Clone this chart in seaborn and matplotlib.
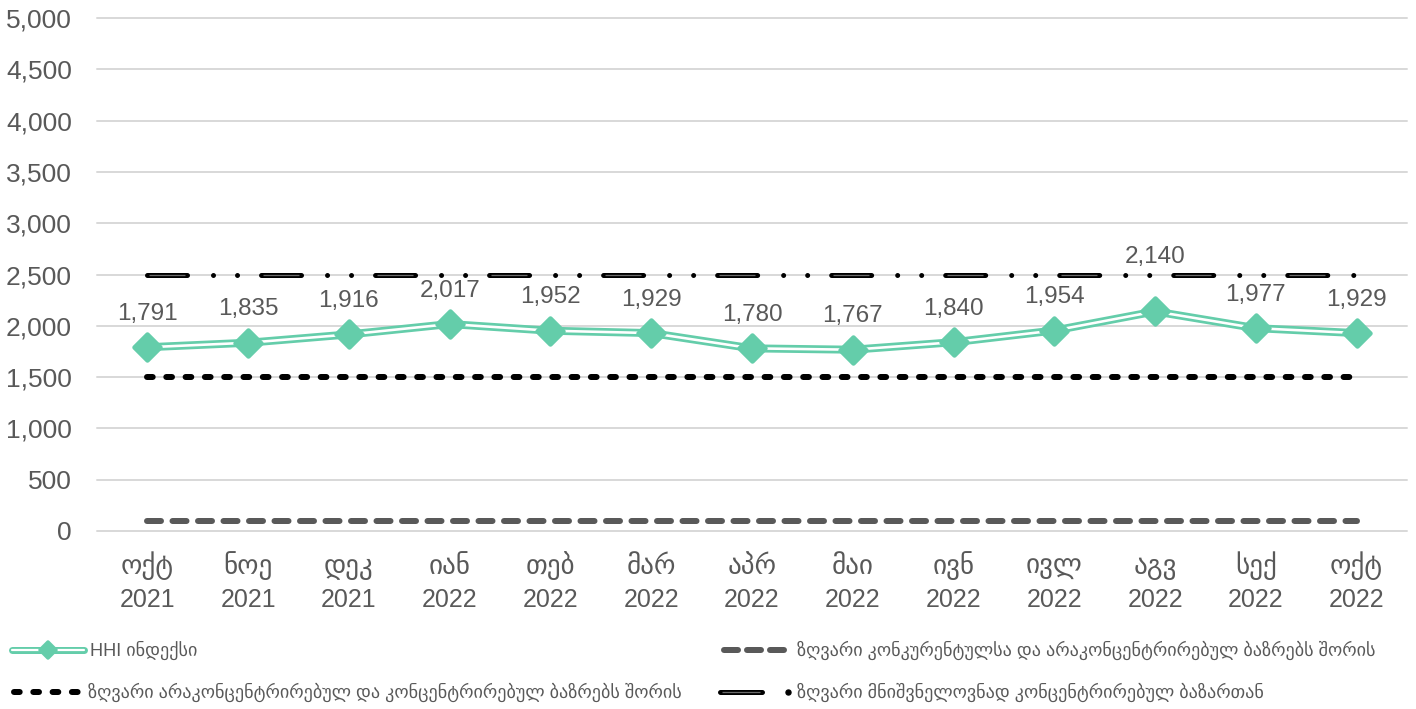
import matplotlib
matplotlib.use("Agg")
import matplotlib.pyplot as plt
from matplotlib.lines import Line2D
from matplotlib.markers import MarkerStyle
import seaborn as sns
import numpy as np

# ---- data -------------------------------------------------------------
months = ["ოქტ", "ნოე", "დეკ", "იან", "თებ", "მარ", "აპრ",
          "მაი", "ივნ", "ივლ", "აგვ", "სექ", "ოქტ"]
years = ["2021", "2021", "2021", "2022", "2022", "2022", "2022",
         "2022", "2022", "2022", "2022", "2022", "2022"]
hhi = [1791, 1835, 1916, 2017, 1952, 1929, 1780, 1767, 1840, 1954, 2140, 1977, 1929]

limit_competitive = 100        # competitive / unconcentrated
limit_unconcentrated = 1500    # unconcentrated / concentrated
limit_concentrated = 2500      # highly concentrated

legend_labels = [
    "HHI ინდექსი",
    "ზღვარი კონკურენტულსა და არაკონცენტრირებულ ბაზრებს შორის",
    "ზღვარი არაკონცენტრირებულ და კონცენტრირებულ ბაზრებს შორის",
    "ზღვარი მნიშვნელოვნად კონცენტრირებულ ბაზართან",
]

# ---- style ------------------------------------------------------------
sns.set_theme(style="white")
plt.rcParams["font.family"] = ["Liberation Sans", "DejaVu Sans"]
plt.rcParams["lines.scale_dashes"] = False

TEAL = "#64CDAA"
GREY_TXT = "#595959"
GRID = "#D9D9D9"
DASH_GREY = "#595959"

W, H = 1416, 709
PX = 0.72  # points per pixel at 100 dpi

fig = plt.figure(figsize=(W / 100, H / 100), dpi=100)
ax = fig.add_axes([97 / W, 1 - 531 / H, 1310 / W, 513 / H])

x = np.arange(len(hhi))


def fx(px):
    return px / W


def fy(py):
    return 1 - py / H


# threshold patterns (in points)
pat_grey = (14 * PX, 11.5 * PX)
pat_black = (5.7 * PX, 13.6 * PX)
pat_ldd = (40 * PX, 26 * PX, 0.01, 24 * PX, 0.01, 24 * PX)
inner_ldd = (112 * PX, (36 * PX, 78 * PX))

# ---- threshold lines ----------------------------------------------------
sns.lineplot(x=x, y=[limit_competitive] * len(x), ax=ax, color=DASH_GREY,
             linewidth=6 * PX, zorder=3)
l_grey = ax.lines[-1]
l_grey.set_dashes(pat_grey)
l_grey.set_dash_capstyle("round")

sns.lineplot(x=x, y=[limit_unconcentrated] * len(x), ax=ax, color="black",
             linewidth=6 * PX, zorder=3)
l_blk = ax.lines[-1]
l_blk.set_dashes(pat_black)
l_blk.set_dash_capstyle("round")

sns.lineplot(x=x, y=[limit_concentrated] * len(x), ax=ax, color="black",
             linewidth=5 * PX, zorder=3)
l_ldd = ax.lines[-1]
l_ldd.set_dashes(pat_ldd)
l_ldd.set_dash_capstyle("round")
sns.lineplot(x=x, y=[limit_concentrated] * len(x), ax=ax, color="#6b6b6b",
             linewidth=1.3 * PX, zorder=3.1)
l_in = ax.lines[-1]
l_in.set_linestyle(inner_ldd)
l_in.set_dash_capstyle("butt")

# ---- HHI series: double line with diamonds --------------------------------
sns.lineplot(x=x, y=hhi, ax=ax, color=TEAL, linewidth=8 * PX, zorder=4)
sns.lineplot(x=x, y=hhi, ax=ax, color="white", linewidth=2.6 * PX, zorder=4.1)
diamond = MarkerStyle("D", joinstyle="round")
ax.plot(x, hhi, linestyle="none", marker=diamond, markersize=19 * PX,
        markerfacecolor=TEAL, markeredgecolor=TEAL, markeredgewidth=4.5 * PX,
        zorder=5)

# value labels
for xi, v in zip(x, hhi):
    off = 39 if v == max(hhi) else 24
    ax.annotate(f"{v:,}", (xi, v), xytext=(0, off), textcoords="offset points",
                ha="center", va="center", fontsize=17.5, color=GREY_TXT,
                zorder=6)

# ---- axes -----------------------------------------------------------------
ax.set_xlim(-0.5, len(x) - 0.5)
ax.set_ylim(0, 5000)
ax.set_yticks(np.arange(0, 5001, 500))
ax.set_yticklabels([f"{t:,}" for t in range(0, 5001, 500)])
ax.tick_params(axis="y", length=0, pad=18, labelsize=19, labelcolor=GREY_TXT)

# month names on the first label row, years on a second row
ax.tick_params(axis="x", length=0, pad=31, labelsize=19.5, labelcolor=GREY_TXT)
ax.set_xticks(x)
ax.set_xticklabels(months, va="baseline")
sec = ax.secondary_xaxis("bottom")
sec.tick_params(axis="x", length=0, pad=55, labelsize=18, labelcolor=GREY_TXT)
sec.set_xticks(x)
sec.set_xticklabels(years, va="baseline")
for s in sec.spines.values():
    s.set_visible(False)

ax.grid(axis="y", color=GRID, linewidth=2 * PX)
ax.grid(axis="x", visible=False)
for gl in ax.get_ygridlines():
    gl.set_clip_on(False)
for s in ax.spines.values():
    s.set_visible(False)
ax.set_xlabel("")
ax.set_ylabel("")

# ---- legend -----------------------------------------------------------------
tf = fig.transFigure
row1, row2 = 650, 692
LEG_FS = 13.1


def fline(x0, x1, y, **kw):
    ln = Line2D([fx(x0), fx(x1)], [fy(y), fy(y)], transform=tf, **kw)
    fig.add_artist(ln)
    return ln


# HHI handle
fline(12, 84, row1, color=TEAL, linewidth=7 * PX)
fline(12, 84, row1, color="white", linewidth=2.2 * PX)
fig.add_artist(Line2D([fx(48)], [fy(row1)], transform=tf, linestyle="none",
                      marker=diamond, markersize=11.5 * PX, markerfacecolor=TEAL,
                      markeredgecolor=TEAL, markeredgewidth=3.5 * PX))
fig.text(fx(90), fy(row1), legend_labels[0], fontsize=LEG_FS, color=GREY_TXT,
         va="center", ha="left")

# black dotted handle
h = fline(14, 78, row2, color="black", linewidth=6 * PX)
h.set_dashes(pat_black)
h.set_dash_capstyle("round")
fig.text(fx(88), fy(row2), legend_labels[2], fontsize=LEG_FS, color=GREY_TXT,
         va="center", ha="left")

# grey dashed handle
h = fline(724, 784, row1, color=DASH_GREY, linewidth=6 * PX)
h.set_dashes((14 * PX, 9 * PX))
h.set_dash_capstyle("round")
fig.text(fx(797), fy(row1), legend_labels[1], fontsize=LEG_FS, color=GREY_TXT,
         va="center", ha="left")

# long dash / dot handle
fline(720, 762, row2, color="black", linewidth=5 * PX, solid_capstyle="round")
fline(722, 760, row2, color="#6b6b6b", linewidth=1.3 * PX, solid_capstyle="butt")
fig.add_artist(Line2D([fx(788)], [fy(row2)], transform=tf, linestyle="none",
                      marker="o", markersize=5 * PX, color="black"))
fig.text(fx(797), fy(row2), legend_labels[3], fontsize=LEG_FS, color=GREY_TXT,
         va="center", ha="left")

fig.savefig("out.png", dpi=100, facecolor="white")
